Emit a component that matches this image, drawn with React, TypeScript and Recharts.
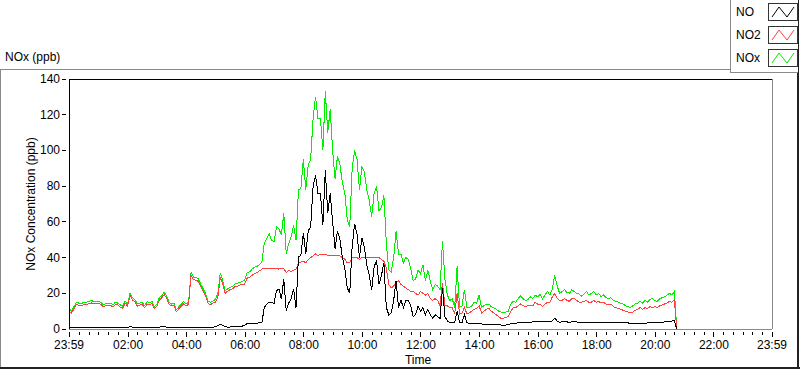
import React from 'react';
import { LineChart, Line, XAxis, YAxis, ReferenceLine } from 'recharts';

// samples every 5 minutes, starting at 23:59
const STEP_MIN = 5;

const NOX = [
  11.5, 10, 12.4, 15, 14.5, 14, 15, 14.9, 15.4, 15.8,
  15.6, 15.2, 15.6, 15, 13.5, 14.3, 14.3, 14.5, 13.5, 15,
  14.5, 13.5, 12.8, 15.6, 14, 20, 17.5, 16.5, 14, 14.5,
  14.9, 13, 15.2, 14.9, 15.4, 12.4, 14, 17.5, 18.6, 20.5,
  18.5, 15, 14, 14.3, 10.8, 12.5, 13.9, 15.4, 14, 15,
  31.8, 29, 29, 28, 25, 22.4, 19.6, 15.5, 14.9, 15.8,
  16.5, 20, 31.5, 27, 21.5, 22.5, 23.3, 24, 25.2, 25.5,
  26.2, 26.5, 27.5, 31.8, 32, 33.5, 34.6, 35, 36, 37.4,
  48, 50.6, 53.4, 49.7, 49, 57.2, 56.3, 52.5, 64.7, 42.2,
  47.8, 51.6, 58.1, 49.7, 77.9, 78.8, 95, 78, 92, 95,
  118, 130, 118, 118, 100, 133, 110, 123, 100, 84,
  97, 92, 82, 76, 61, 57, 90, 100, 95, 78,
  91, 88, 78, 72, 63, 76, 80, 66, 68, 75,
  48, 33, 32, 40, 55, 42, 42, 37, 40, 39,
  34, 27, 28, 33, 31, 36, 27, 33, 27, 22,
  25, 24, 22, 49, 28, 19, 16, 17, 12, 35,
  12, 13, 22, 12, 12, 13, 15, 14.5, 19, 12,
  13, 14, 14, 12.5, 12, 11, 10, 9.5, 9, 9.5,
  10, 14, 15.5, 15, 17, 18.5, 17, 16, 16.5, 18,
  17, 19, 18, 19.5, 17, 19, 21, 19, 22.5, 30,
  24, 20, 21, 22, 20.5, 20, 22, 21, 20, 19.5,
  18.5, 19.5, 21, 19, 20, 21, 19, 20, 18, 19,
  17.5, 17, 17.5, 16, 15.5, 15, 14.5, 14, 13, 12.5,
  12, 13, 14, 14.5, 15.5, 14.5, 16, 15, 16.5, 17,
  16, 15.5, 17, 17.5, 18, 19, 20, 19, 21, 0,
];

const NO2 = [
  10.3, 8.8, 11.2, 13.8, 13.2, 12.9, 13.7, 13.8, 14.1, 14.6,
  14.4, 14, 14.3, 13.9, 12.4, 13.1, 13.2, 13.3, 12.3, 13.8,
  13.4, 12.3, 11.7, 14.4, 12.9, 18.8, 16.3, 15.3, 12.8, 13.4,
  13.7, 11.9, 14, 13.7, 14.2, 11.3, 12.8, 16.3, 17.4, 19.2,
  17.3, 13.8, 12.9, 13.1, 9.7, 11.3, 12.7, 14.2, 12.9, 13.8,
  30.3, 27.5, 27.4, 26.6, 23.7, 21.1, 18.3, 14.2, 13.6, 14.5,
  15, 18, 29, 25, 20, 21.2, 22, 22.6, 23.7, 24,
  24.6, 24.8, 25.2, 28.5, 29, 30, 31, 31.5, 32.5, 33.5,
  34, 34, 34, 34, 34, 34, 33.5, 34, 34, 31.5,
  33, 32, 33, 33.5, 36.7, 37.5, 38, 37, 39, 40,
  41, 42, 41, 42, 42, 42, 41, 41, 41, 41,
  41, 41, 40, 39, 37, 37, 40, 40, 40, 39,
  40, 40, 40, 40, 40, 40, 40, 40, 39, 38,
  34, 25, 23, 24, 26, 27, 25, 24, 23, 22,
  21, 21, 20, 19, 21, 20, 19, 20, 17, 16,
  17, 16, 13, 26, 13, 13, 12, 12, 8.3, 20,
  8.3, 9, 12, 8.5, 9, 10, 11, 11.5, 13, 9,
  10, 11, 11.5, 10, 9, 8, 7, 6, 6, 6.5,
  7, 10, 12, 12, 13, 14, 13, 12.5, 13, 13,
  13, 15, 14, 14, 12.5, 14, 15, 15, 18, 20,
  17, 16, 16, 17, 16, 15.5, 17, 17, 16, 15,
  15, 15.5, 16, 15, 15, 16, 15, 15.5, 14.5, 15,
  14, 13.5, 14, 12.5, 12, 11.5, 11, 10.5, 10, 9.5,
  9, 9.5, 10.5, 11, 12, 11, 12, 11.5, 12.5, 12,
  12.5, 12, 13, 13.5, 14, 14.5, 15.5, 15, 16.5, 0,
];

const NO = [
  1, 1.1, 1, 0.9, 1, 1, 0.9, 1, 1, 0.8,
  0.9, 1, 1, 0.9, 1, 1.1, 1, 0.9, 1, 1,
  1, 0.9, 1, 1, 1, 1.2, 1.1, 1, 1, 0.9,
  1, 1, 1, 0.9, 1, 1, 1, 1.1, 1.2, 1.2,
  1.1, 1, 1, 1, 1, 1, 1.1, 1, 1, 1,
  1, 1, 1.1, 1, 1, 1, 1, 1, 1, 1,
  1.2, 1.8, 2.6, 2, 1.2, 1.1, 1.1, 1.3, 1.3, 1.4,
  1.5, 1.6, 2.2, 3, 3, 3.3, 3.3, 3.3, 3.4, 3.5,
  12, 14, 14.9, 14.9, 14.3, 21.4, 22.4, 16.8, 28, 10.2,
  14.5, 17, 22.4, 12, 40.3, 41.2, 54, 42, 55, 57,
  80, 86, 76, 76, 58, 89, 65, 76, 60, 45,
  55, 50, 40, 34, 23, 20, 46, 59, 53, 40,
  51, 46, 36, 30, 22, 35, 38, 25, 30, 37,
  12, 8, 9, 16, 27, 12, 16, 12, 16, 16,
  13, 7, 8, 13, 10, 12, 8, 11, 8, 6,
  8, 7, 6, 23, 7, 4.5, 3.6, 3.6, 3.6, 10,
  3.6, 3.6, 8, 3.6, 3.2, 3, 3, 3, 3, 2.8,
  2.6, 2.6, 2.6, 2.6, 2.6, 2.6, 2.5, 2.2, 2.2, 2.2,
  2.4, 3, 3, 3, 3.6, 3.6, 3.6, 3.6, 3.6, 3.6,
  4, 4, 4, 4, 4, 4, 4, 4, 4.5, 6,
  4.5, 3.8, 4, 4, 4, 3.6, 4, 4, 4, 3.6,
  3.6, 3.6, 3.6, 3.6, 3.6, 3.6, 3.6, 3.6, 3.6, 3.6,
  3.6, 3.6, 3.6, 3.6, 3.6, 3.6, 3.6, 3.6, 3.6, 3.4,
  3.2, 3.2, 3.2, 3.2, 3.2, 3.2, 3.2, 3.4, 3.6, 3.6,
  3.6, 3.6, 3.6, 3.6, 4, 4, 4.2, 4.5, 4.5, 0,
];

const X_TICK_LABELS = ['23:59', '02:00', '04:00', '06:00', '08:00', '10:00', '12:00',
  '14:00', '16:00', '18:00', '20:00', '22:00', '23:59'];
// minutes after 23:59
const X_TICK_MIN = [0, 121, 241, 361, 481, 601, 721, 841, 961, 1081, 1201, 1321, 1440];
const Y_TICKS = [0, 20, 40, 60, 80, 100, 120, 140];

const SERIES = [
  { key: 'no', name: 'NO', color: '#000000' },
  { key: 'no2', name: 'NO2', color: '#ff4040' },
  { key: 'nox', name: 'NOx', color: '#00ee00' },
];

const data = NO.map((v, i) => ({ t: i * STEP_MIN, no: v, no2: NO2[i], nox: NOX[i] }));
data.push({ t: 1440, no: 0, no2: 0, nox: 0 });

// minor ticks every 20 min on the clock (00:00, 00:20, ...)
const minorTicks: number[] = [];
for (let m = 1; m < 1440; m += 20) minorTicks.push(m);
const allTicks = Array.from(new Set([...X_TICK_MIN, ...minorTicks])).sort((a, b) => a - b);

const FONT = '"Liberation Sans", Arial, sans-serif';

const XTick = (props: any) => {
  const { x, y, payload } = props;
  const idx = X_TICK_MIN.indexOf(payload.value);
  const major = idx >= 0;
  return (
    <g>
      <line x1={x} x2={x} y1={y + 3} y2={y + (major ? 8 : 6)} stroke="#000" />
      {major && (
        <text x={x} y={y + 20} textAnchor="middle" fontSize={12} fontFamily={FONT} fill="#000">
          {X_TICK_LABELS[idx]}
        </text>
      )}
    </g>
  );
};

const YTick = (props: any) => {
  const { x, y, payload } = props;
  return (
    <g>
      <line x1={x - 7} x2={x - 3} y1={y} y2={y} stroke="#000" />
      <text x={x - 9} y={y + 4} textAnchor="end" fontSize={12} fontFamily={FONT} fill="#000">
        {payload.value}
      </text>
    </g>
  );
};

function Swatch({ color }: { color: string }) {
  return (
    <svg width={30} height={18} style={{ display: 'block' }}>
      <rect x={0.5} y={0.5} width={29} height={17} fill="#fff" stroke="#333" />
      <polyline points="4,14 11,4 19,14 26,4" fill="none" stroke={color} strokeWidth={1} />
    </svg>
  );
}

export default function App() {
  return (
    <div style={{ position: 'absolute', left: 0, top: 0, width: 800, height: 369, background: '#fff', fontFamily: FONT, overflow: 'hidden' }}>
      {/* outer panel frame */}
      <div style={{ position: 'absolute', left: 0, top: 69, width: 730, height: 1, background: '#8a8a8a' }} />
      <div style={{ position: 'absolute', left: 0, top: 69, width: 1, height: 300, background: '#8a8a8a' }} />
      <div style={{ position: 'absolute', left: 0, top: 367, width: 800, height: 2, background: '#222' }} />
      <div style={{ position: 'absolute', left: 797, top: 0, width: 2, height: 369, background: '#222' }} />

      <div style={{ position: 'absolute', left: 5, top: 50, fontSize: 12, color: '#000' }}>NOx (ppb)</div>

      {/* legend */}
      <div style={{ position: 'absolute', left: 730, top: 0, width: 67, height: 72, borderLeft: '1px solid #8a8a8a', borderBottom: '1px solid #8a8a8a', background: '#fff' }}>
        {SERIES.map((s, i) => (
          <div key={s.key} style={{ position: 'absolute', left: 5, top: 3 + i * 23, width: 62, height: 18 }}>
            <span style={{ position: 'absolute', left: 0, top: 2, fontSize: 12 }}>{s.name}</span>
            <div style={{ position: 'absolute', left: 32, top: 0 }}>
              <Swatch color={s.color} />
            </div>
          </div>
        ))}
      </div>

      <div style={{ position: 'absolute', left: 31, top: 204, transform: 'translate(-50%, -50%) rotate(-90deg)', fontSize: 12, whiteSpace: 'nowrap' }}>
        NOx Concentration (ppb)
      </div>
      <div style={{ position: 'absolute', left: 418, top: 353, transform: 'translateX(-50%)', fontSize: 12 }}>Time</div>

      <div style={{ position: 'absolute', left: 0, top: 0, shapeRendering: 'crispEdges' }}>
        <LineChart width={800} height={369} data={data} margin={{ top: 79, right: 28, bottom: 0, left: 0 }}>
          <XAxis
            dataKey="t"
            type="number"
            domain={[0, 1440]}
            ticks={allTicks}
            interval={0}
            tick={<XTick />}
            tickLine={false}
            tickSize={0}
            tickMargin={0}
            height={40}
            axisLine={{ stroke: '#8a8a8a' }}
          />
          <YAxis
            type="number"
            domain={[0, 140]}
            ticks={Y_TICKS}
            interval={0}
            width={69}
            tick={<YTick />}
            tickLine={false}
            tickSize={0}
            tickMargin={0}
            axisLine={{ stroke: '#000' }}
          />
          <ReferenceLine y={140} stroke="#000" />
          <ReferenceLine x={1440} stroke="#8a8a8a" />
          {[...SERIES].reverse().map((s) => (
            <Line
              key={s.key}
              type="linear"
              dataKey={s.key}
              name={s.name}
              stroke={s.color}
              strokeWidth={1}
              dot={false}
              isAnimationActive={false}
            />
          ))}
        </LineChart>
      </div>
    </div>
  );
}
